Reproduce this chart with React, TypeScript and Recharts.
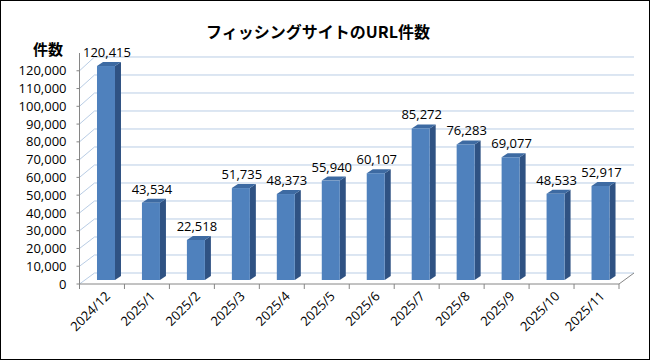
import React from "react"
import { BarChart, Bar, XAxis, YAxis, CartesianGrid, LabelList } from "recharts"

const months = [
  "2024/12", "2025/1", "2025/2", "2025/3", "2025/4", "2025/5",
  "2025/6", "2025/7", "2025/8", "2025/9", "2025/10", "2025/11",
]
const urlCounts = [120415, 43534, 22518, 51735, 48373, 55940, 60107, 85272, 76283, 69077, 48533, 52917]
const yTicks = [0, 10000, 20000, 30000, 40000, 50000, 60000, 70000, 80000, 90000, 100000, 110000, 120000]

const data = months.map((month, i) => ({ month, count: urlCounts[i] }))

const FONT = "'Open Sans', 'Liberation Sans', sans-serif"
const JP_FONT = "'Noto Sans CJK JP', sans-serif"
const GRID = "#b9cde5"
const AXIS = "#868686"
const FRONT = "#4f81bd"
const SIDE = "#2f5283"
const TOP = "#3d6aa2"

// 3D depth of the chart walls and of each bar
const WALL_DX = 15
const WALL_DY = 11
const BAR_SHIFT_X = 4
const BAR_SHIFT_Y = 4
const BAR_DX = 6
const BAR_DY = 4

const fmt = (v: number) => v.toLocaleString("en-US")

function WallLine(props: any) {
  const { x1, x2, y1, y, height } = props
  // no line at the top edge of the plot (130,000 is only headroom)
  if (y1 < y + 1) return <g key={props.key} />
  const floorY = y + height
  const lift = WALL_DY + (floorY - y1) * 0.013
  const bx = x1 + WALL_DX
  const by = y1 - lift
  const isFloor = Math.abs(y1 - floorY) < 0.5
  return (
    <g key={props.key}>
      <line x1={x1} y1={y1} x2={bx} y2={by} stroke={GRID} strokeWidth={1} />
      <line x1={bx} y1={by} x2={x2 + WALL_DX} y2={by} stroke={GRID} strokeWidth={1} />
      {isFloor && <line x1={x2} y1={y1} x2={x2 + WALL_DX} y2={by} stroke={AXIS} strokeWidth={1} />}
    </g>
  )
}

function Bar3D(props: any) {
  const { x, y, width, height } = props
  if (height == null || width == null) return null
  const fx = x + BAR_SHIFT_X
  const fy = y - BAR_SHIFT_Y
  const right = fx + width
  const bottom = fy + height
  return (
    <g>
      <polygon
        points={`${right},${fy} ${right + BAR_DX},${fy - BAR_DY} ${right + BAR_DX},${bottom - BAR_DY} ${right},${bottom}`}
        fill={SIDE}
      />
      <polygon
        points={`${fx},${fy} ${fx + BAR_DX},${fy - BAR_DY} ${right + BAR_DX},${fy - BAR_DY} ${right},${fy}`}
        fill={TOP}
      />
      <rect x={fx} y={fy} width={width} height={height} fill={FRONT} />
    </g>
  )
}

function ValueLabel(props: any) {
  const { x, y, width, value } = props
  return (
    <text
      x={x + BAR_SHIFT_X + width / 2 + 1}
      y={y - BAR_SHIFT_Y - 14}
      textAnchor="middle"
      dominantBaseline="central"
      fontFamily={FONT}
      fontSize={13}
      fill="#000"
    >
      {fmt(value)}
    </text>
  )
}

function MonthTick(props: any) {
  const { x, y, payload, index, visibleTicksCount, width } = props
  const band = width / visibleTicksCount
  const px = x + 9
  const py = y + 13
  return (
    <g>
      <line x1={x - band / 2} y1={y} x2={x - band / 2} y2={y + 5} stroke={AXIS} />
      {index === visibleTicksCount - 1 && (
        <line x1={x + band / 2} y1={y} x2={x + band / 2} y2={y + 5} stroke={AXIS} />
      )}
      <text
        x={px}
        y={py}
        textAnchor="end"
        transform={`rotate(-45, ${px}, ${py})`}
        fontFamily={FONT}
        fontSize={13}
        fill="#000"
      >
        {payload.value}
      </text>
    </g>
  )
}

export default function App() {
  return (
    <div
      style={{
        position: "absolute",
        left: 0,
        top: 0,
        width: 650,
        height: 360,
        boxSizing: "border-box",
        border: "1.5px solid #000",
        background: "#fff",
      }}
    >
      <div
        style={{
          position: "absolute",
          left: 0,
          top: 0,
          width: 650,
          height: 360,
        }}
      >
        <BarChart
          width={650}
          height={360}
          data={data}
          margin={{ top: 52, right: 32, bottom: 17, left: 18.5 }}
          barCategoryGap="30%"
        >
          <CartesianGrid vertical={false} horizontal={WallLine} />
          <XAxis
            dataKey="month"
            height={60}
            interval={0}
            tickSize={0}
            tickMargin={0}
            tickLine={false}
            axisLine={{ stroke: AXIS }}
            tick={MonthTick}
          />
          <YAxis
            width={60}
            domain={[0, 130000]}
            ticks={yTicks}
            interval={0}
            tickSize={3}
            tickMargin={10}
            tickLine={{ stroke: AXIS }}
            axisLine={{ stroke: AXIS }}
            tickFormatter={fmt}
            tick={{ fontFamily: FONT, fontSize: 13, fill: "#000" }}
          />
          <Bar dataKey="count" shape={Bar3D} isAnimationActive={false}>
            <LabelList dataKey="count" content={ValueLabel} />
          </Bar>
        </BarChart>
      </div>
      <div
        style={{
          position: "absolute",
          left: 0,
          top: 19,
          width: 634,
          textAlign: "center",
          fontFamily: JP_FONT,
          fontWeight: 700,
          fontSize: 16,
          lineHeight: "22px",
        }}
      >
        フィッシングサイトのURL件数
      </div>
      <div
        style={{
          position: "absolute",
          left: 32,
          top: 38,
          fontFamily: JP_FONT,
          fontWeight: 700,
          fontSize: 15,
          lineHeight: "20px",
        }}
      >
        件数
      </div>
    </div>
  )
}
